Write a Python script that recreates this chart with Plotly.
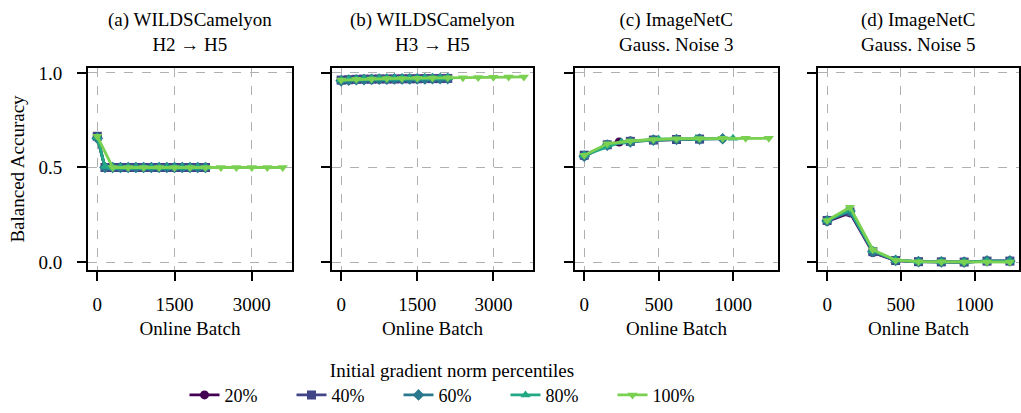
import plotly.graph_objects as go

FONT = "Liberation Serif"

percentiles = ["20%", "40%", "60%", "80%", "100%"]
colors = ["#440154", "#414487", "#2a788e", "#22a884", "#7ad151"]
symbols = ["circle", "square", "diamond", "triangle-up", "triangle-down"]

panel_titles = [
    "(a) WILDSCamelyon<br>H2 → H5",
    "(b) WILDSCamelyon<br>H3 → H5",
    "(c) ImageNetC<br>Gauss. Noise 3",
    "(d) ImageNetC<br>Gauss. Noise 5",
]

# ---- Panel (a) ----
a_x_short = [0, 150, 300, 450, 600, 750, 900, 1050, 1200, 1350, 1500, 1650, 1800, 1950, 2100]
a_x_long = [0, 300, 600, 900, 1200, 1500, 1800, 2100, 2400, 2700, 3000, 3300, 3600]
a_y20 = [0.66, 0.50, 0.50, 0.50, 0.50, 0.50, 0.50, 0.50, 0.50, 0.50, 0.50, 0.50, 0.50, 0.50, 0.50]
a_y40 = [0.665, 0.50, 0.50, 0.50, 0.50, 0.50, 0.50, 0.50, 0.50, 0.50, 0.50, 0.50, 0.50, 0.50, 0.50]
a_y60 = [0.655, 0.50, 0.50, 0.50, 0.50, 0.50, 0.50, 0.50, 0.50, 0.50, 0.50, 0.50, 0.50, 0.50, 0.50]
a_y80 = [0.66, 0.505, 0.50, 0.50, 0.50, 0.50, 0.50, 0.50, 0.50, 0.50, 0.50, 0.50, 0.50, 0.50, 0.50]
a_y100 = [0.665, 0.50, 0.50, 0.50, 0.50, 0.50, 0.50, 0.50, 0.50, 0.50, 0.50, 0.50, 0.50]

# ---- Panel (b) ----
b_x_short = [0, 150, 300, 450, 600, 750, 900, 1050, 1200, 1350, 1500, 1650, 1800, 1950, 2100]
b_x_long = [0, 300, 600, 900, 1200, 1500, 1800, 2100, 2400, 2700, 3000, 3300, 3600]
b_y20 = [0.960, 0.963, 0.965, 0.966, 0.966, 0.967, 0.967, 0.968, 0.968, 0.968, 0.969, 0.969, 0.969, 0.970, 0.970]
b_y40 = [0.962, 0.964, 0.966, 0.967, 0.967, 0.968, 0.968, 0.968, 0.969, 0.969, 0.969, 0.970, 0.970, 0.970, 0.971]
b_y60 = [0.958, 0.962, 0.964, 0.965, 0.966, 0.967, 0.967, 0.968, 0.968, 0.969, 0.969, 0.969, 0.970, 0.970, 0.970]
b_y80 = [0.963, 0.966, 0.968, 0.969, 0.970, 0.970, 0.971, 0.971, 0.972, 0.972, 0.972, 0.973, 0.973, 0.973, 0.974]
b_y100 = [0.962, 0.966, 0.968, 0.970, 0.971, 0.972, 0.973, 0.974, 0.975, 0.976, 0.977, 0.978, 0.979]

# ---- Panel (c) ----
c_x20 = [0, 155, 235, 310, 465, 620, 775]
c_y20 = [0.56, 0.62, 0.635, 0.64, 0.645, 0.648, 0.65]
c_x40 = [0, 155, 310, 465, 620, 775]
c_y40 = [0.565, 0.62, 0.638, 0.645, 0.648, 0.65]
c_x60 = [0, 155, 310, 465, 620, 775, 930]
c_y60 = [0.56, 0.618, 0.635, 0.645, 0.648, 0.65, 0.652]
c_x80 = [0, 250, 500, 750, 1000]
c_y80 = [0.565, 0.635, 0.65, 0.652, 0.655]
c_x100 = [0, 155, 310, 465, 620, 775, 930, 1085, 1240]
c_y100 = [0.565, 0.625, 0.64, 0.648, 0.652, 0.653, 0.654, 0.654, 0.654]

# ---- Panel (d) ----
d_x = [0, 155, 310, 465, 620, 775, 930, 1085, 1240]
d_y20 = [0.215, 0.26, 0.05, 0.008, 0.002, 0.001, 0.0, 0.005, 0.005]
d_y40 = [0.22, 0.265, 0.055, 0.008, 0.002, 0.001, 0.0, 0.005, 0.005]
d_y60 = [0.218, 0.27, 0.055, 0.009, 0.002, 0.001, 0.0, 0.006, 0.006]
d_y80 = [0.22, 0.275, 0.06, 0.01, 0.002, 0.001, 0.0, 0.004, 0.004]
d_y100 = [0.22, 0.29, 0.065, 0.01, 0.002, 0.001, 0.0, 0.0, 0.0]

panels = [
    [(a_x_short, a_y20), (a_x_short, a_y40), (a_x_short, a_y60), (a_x_short, a_y80), (a_x_long, a_y100)],
    [(b_x_short, b_y20), (b_x_short, b_y40), (b_x_short, b_y60), (b_x_short, b_y80), (b_x_long, b_y100)],
    [(c_x20, c_y20), (c_x40, c_y40), (c_x60, c_y60), (c_x80, c_y80), (c_x100, c_y100)],
    [(d_x, d_y20), (d_x, d_y40), (d_x, d_y60), (d_x, d_y80), (d_x, d_y100)],
]

x_ranges = [[-180, 3780], [-180, 3780], [-62, 1302], [-62, 1302]]
x_ticks = [[0, 1500, 3000], [0, 1500, 3000], [0, 500, 1000], [0, 500, 1000]]
y_range = [-0.042, 1.026]
y_ticks = [0.0, 0.5, 1.0]

W, H = 1021, 413
ML, MR, MT, MB = 88, 2, 68, 143
pw = W - ML - MR
ph = H - MT - MB
px_domains = [(88, 292), (332, 533), (575, 778), (818, 1019)]
domains = [[(a - ML) / pw, (b - ML) / pw] for a, b in px_domains]

fig = go.Figure()

for p, series in enumerate(panels):
    xa = "x" if p == 0 else f"x{p+1}"
    ya = "y" if p == 0 else f"y{p+1}"
    for i, (xs, ys) in enumerate(series):
        fig.add_trace(go.Scatter(
            x=xs, y=ys, xaxis=xa, yaxis=ya,
            mode="lines+markers",
            name=percentiles[i],
            legendgroup=percentiles[i],
            showlegend=(p == 0),
            line=dict(color=colors[i], width=2.8),
            marker=dict(symbol=symbols[i], size=9, color=colors[i],
                        line=dict(width=0)),
        ))

axis_common = dict(
    showline=True, linecolor="black", linewidth=2, mirror=True,
    ticks="outside", ticklen=9, tickwidth=2, tickcolor="black",
    showgrid=True, gridcolor="#b0b0b0", griddash="dash", gridwidth=1,
    zeroline=False,
    tickfont=dict(family=FONT, size=19, color="black"),
)

layout = {}
for p in range(4):
    xkey = "xaxis" if p == 0 else f"xaxis{p+1}"
    ykey = "yaxis" if p == 0 else f"yaxis{p+1}"
    layout[xkey] = dict(
        axis_common, domain=domains[p], range=x_ranges[p],
        tickvals=x_ticks[p], ticktext=[str(v) for v in x_ticks[p]],
        ticklabelstandoff=7,
        anchor="y" if p == 0 else f"y{p+1}",
        title=dict(text="Online Batch", font=dict(family=FONT, size=19, color="black"), standoff=8),
    )
    layout[ykey] = dict(
        axis_common, domain=[0, 1], range=y_range,
        tickvals=y_ticks, ticktext=["0.0", "0.5", "1.0"],
        showticklabels=(p == 0),
        ticklabelstandoff=11,
        anchor="x" if p == 0 else f"x{p+1}",
    )
layout["yaxis"]["title"] = dict(text="Balanced Accuracy", font=dict(family=FONT, size=19, color="black"), standoff=9)

annotations = []
for p in range(4):
    cx = (domains[p][0] + domains[p][1]) / 2
    annotations.append(dict(
        text=panel_titles[p], x=cx, y=1.0, xref="paper", yref="paper",
        xanchor="center", yanchor="bottom", yshift=11, showarrow=False,
        font=dict(family=FONT, size=19, color="black"), align="center",
    ))

fig.update_layout(
    **layout,
    annotations=annotations,
    width=W, height=H,
    margin=dict(l=ML, r=MR, t=MT, b=MB, autoexpand=False),
    paper_bgcolor="white", plot_bgcolor="white",
    font=dict(family=FONT, size=19, color="black"),
    legend=dict(
        orientation="h", x=(452 - ML) / pw, xanchor="center",
        y=-(352 - (MT + ph)) / ph, yanchor="top",
        title=dict(text="Initial gradient norm percentiles", side="top center",
                   font=dict(family=FONT, size=19, color="black")),
        font=dict(family=FONT, size=18, color="black"),
        entrywidth=62, entrywidthmode="pixels",
        bgcolor="rgba(0,0,0,0)",
    ),
)

fig.write_html("out.html")
